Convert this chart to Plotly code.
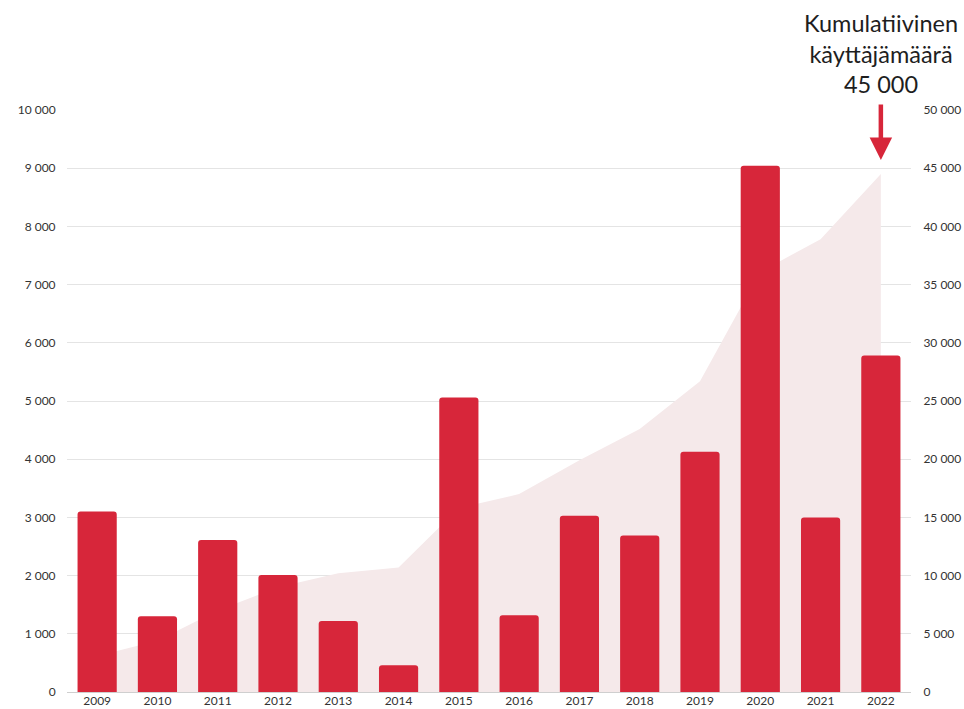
import plotly.graph_objects as go

# Annual new users per year (bars, left axis) and cumulative users (area, right axis)
years = ["2009", "2010", "2011", "2012", "2013", "2014", "2015",
         "2016", "2017", "2018", "2019", "2020", "2021", "2022"]
new_users = [3100, 1300, 2610, 2010, 1220, 460, 5060,
             1320, 3030, 2690, 4130, 9040, 3000, 5780]
cumulative_users = [3100, 4400, 7000, 9000, 10200, 10700, 15800,
                    17000, 19900, 22600, 26700, 36100, 38900, 44500]

left_ticks = [0, 1000, 2000, 3000, 4000, 5000, 6000, 7000, 8000, 9000, 10000]
right_ticks = [0, 5000, 10000, 15000, 20000, 25000, 30000, 35000, 40000, 45000, 50000]

BAR_RED = "#D7263A"
AREA_PINK = "#F5E9EA"
TICK_FONT = dict(family="Lato, 'Noto Sans', sans-serif", size=12, color="#333333")

fig = go.Figure()

# Cumulative area sits on the base y axis so the bars overlay it
fig.add_trace(go.Scatter(
    x=years, y=cumulative_users, yaxis="y",
    mode="lines", line=dict(width=0, color=AREA_PINK),
    fill="tozeroy", fillcolor=AREA_PINK,
    hoverinfo="skip", showlegend=False,
))

fig.add_trace(go.Bar(
    x=years, y=new_users, yaxis="y2",
    marker=dict(color=BAR_RED, cornerradius=3, line=dict(width=0)),
    showlegend=False,
))

fig.update_layout(
    width=964, height=709,
    margin=dict(l=67, r=53, t=110, b=17),
    paper_bgcolor="white", plot_bgcolor="white",
    separators=", ",
    bargap=0.35,
    xaxis=dict(
        type="category", categoryorder="array", categoryarray=years,
        range=[-0.5, len(years) - 0.5],
        showgrid=False, zeroline=False,
        showline=False, ticks="", tickfont=TICK_FONT,
        automargin=False,
    ),
    yaxis=dict(
        side="right", range=[0, 50000], tickvals=right_ticks,
        tickformat=",d", tickfont=TICK_FONT,
        showgrid=True, gridcolor="#E4E4E4", gridwidth=1,
        zeroline=True, zerolinecolor="#CFCFCF", zerolinewidth=1,
        ticks="outside", ticklen=9, tickcolor="rgba(0,0,0,0)",
        automargin=False,
    ),
    yaxis2=dict(
        side="left", overlaying="y", range=[0, 10000], tickvals=left_ticks,
        tickformat=",d", tickfont=TICK_FONT,
        showgrid=False, zeroline=False,
        ticks="outside", ticklen=8, tickcolor="rgba(0,0,0,0)",
        automargin=False,
    ),
)

last_idx = len(years) - 1

# Arrow pointing at the latest cumulative value
fig.add_annotation(
    x=last_idx, xref="x", y=45700, yref="y",
    ax=0, ay=-57, axref="pixel", ayref="pixel",
    text="", showarrow=True,
    arrowhead=2, arrowsize=1.0, arrowwidth=4.5, arrowcolor=BAR_RED,
)

fig.add_annotation(
    x=last_idx, xref="x", y=1.017, yref="paper",
    xanchor="center", yanchor="bottom",
    text="Kumulatiivinen<br>käyttäjämäärä<br>45 000",
    showarrow=False, align="center",
    font=dict(family="Lato, 'Noto Sans', sans-serif", size=23.5, color="#1E1E1E"),
)

fig.write_html("out.html")
